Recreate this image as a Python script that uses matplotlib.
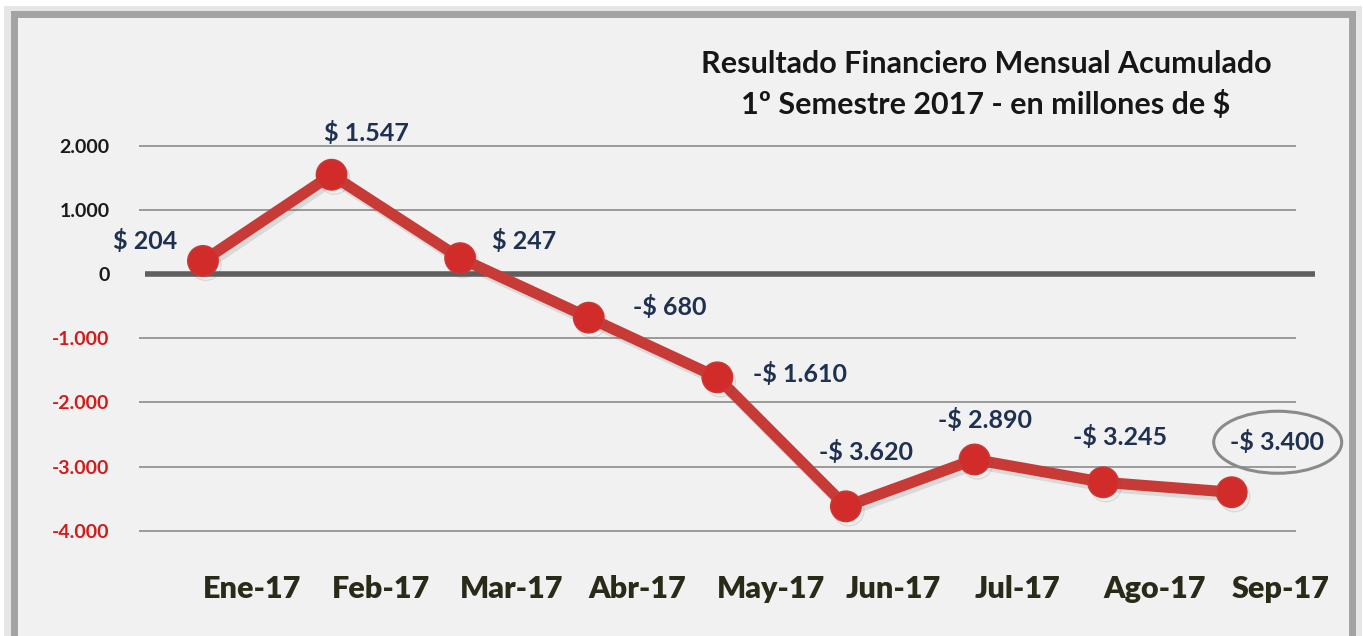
import matplotlib.pyplot as plt
import matplotlib.patheffects as pe
from matplotlib.patches import Rectangle, Ellipse
import numpy as np

plt.rcParams['font.family'] = ['Lato', 'DejaVu Sans']

months = ['Ene-17', 'Feb-17', 'Mar-17', 'Abr-17', 'May-17',
          'Jun-17', 'Jul-17', 'Ago-17', 'Sep-17']
resultado = [204, 1547, 247, -680, -1610, -3620, -2890, -3245, -3400]
etiquetas = ['$ 204', '$ 1.547', '$ 247', '-$ 680', '-$ 1.610',
             '-$ 3.620', '-$ 2.890', '-$ 3.245', '-$ 3.400']
yticks = [2000, 1000, 0, -1000, -2000, -3000, -4000]
ytick_labels = ['2.000', '1.000', '0', '-1.000', '-2.000', '-3.000', '-4.000']

# label offsets in pixels from each point
label_offsets = [(-58, 20), (35, 42), (64, 17), (81, 11), (83, 3),
                 (20, 54), (10, 40), (17, 45), (45, 50)]

W, H = 1363, 636
fig = plt.figure(figsize=(W / 100, H / 100), dpi=100, facecolor='white')

# outer frame with shadow
fig.patches.append(Rectangle((4 / W, -0.2), (1362 - 4) / W, 1.2 - 6 / H,
                             transform=fig.transFigure, facecolor='#e6e6e6',
                             edgecolor='none', zorder=-2))
fig.patches.append(Rectangle((14 / W, -0.2), (1352 - 14) / W, 1.2 - 14 / H,
                             transform=fig.transFigure, facecolor='#f1f1f1',
                             edgecolor='#a3a3a3', linewidth=5, zorder=-1))

ax = fig.add_axes([138.7 / W, (H - 550) / H, (1296 - 138.7) / W, 430 / H])
ax.set_zorder(2)
ax.set_facecolor('none')
x = np.arange(len(months))
ax.set_xlim(-0.5, len(months) - 0.5)
ax.set_ylim(-4300, 2400)

for v in yticks:
    if v == 0:
        ax.plot([-0.45, 8.65], [0, 0], color='#5f5f5f', linewidth=4,
                solid_capstyle='butt', clip_on=False, zorder=2)
    else:
        ax.axhline(v, color='#8c8c8c', linewidth=1.2, zorder=1)

ax.plot(x, resultado, color='#c83a36', linewidth=8, marker='o',
        markersize=22, markerfacecolor='#d22c2a', markeredgecolor='#c83a36',
        markeredgewidth=1, clip_on=False, zorder=3,
        path_effects=[pe.SimpleLineShadow(offset=(2, -3), alpha=0.15,
                                          shadow_color='#555555'),
                      pe.Normal()])

for xi, v, lab, (dx, dy) in zip(x, resultado, etiquetas, label_offsets):
    ax.annotate(lab, (xi, v), xytext=(dx, dy), textcoords='offset pixels',
                ha='center', va='center', fontsize=18, fontweight='bold',
                color='#1f3150', zorder=4)

ax.set_yticks(yticks)
ax.set_yticklabels(ytick_labels)
for lab, v in zip(ax.get_yticklabels(), yticks):
    lab.set_color('#d01c1c' if v < 0 else '#1a1a1a')
    lab.set_fontsize(14)
    lab.set_fontweight('bold')
ax.tick_params(axis='y', length=0, pad=21)

ax.set_xticks(x)
ax.set_xticklabels(months, fontsize=22, fontweight='heavy', color='#2a2a18',
                   ha='left')
ax.tick_params(axis='x', length=0, pad=18)

for s in ax.spines.values():
    s.set_visible(False)

# circle around the last value
fig.canvas.draw()
last = ax.transData.transform((x[-1], resultado[-1]))
cx, cy = last[0] + 46, last[1] + 50
ax.add_patch(Ellipse((cx, cy), 128, 62, transform=None, facecolor='none',
                     edgecolor='#8a8a8a', linewidth=2.2, zorder=5,
                     clip_on=False))

fig.text(986 / W, 1 - 64 / H, 'Resultado Financiero Mensual Acumulado',
         ha='center', va='center', fontsize=22, fontweight='bold',
         color='#161616')
fig.text(986 / W, 1 - 104 / H, '1º Semestre 2017 - en millones de $',
         ha='center', va='center', fontsize=22, fontweight='bold',
         color='#161616')

plt.savefig('out.png', dpi=100, facecolor='white')
